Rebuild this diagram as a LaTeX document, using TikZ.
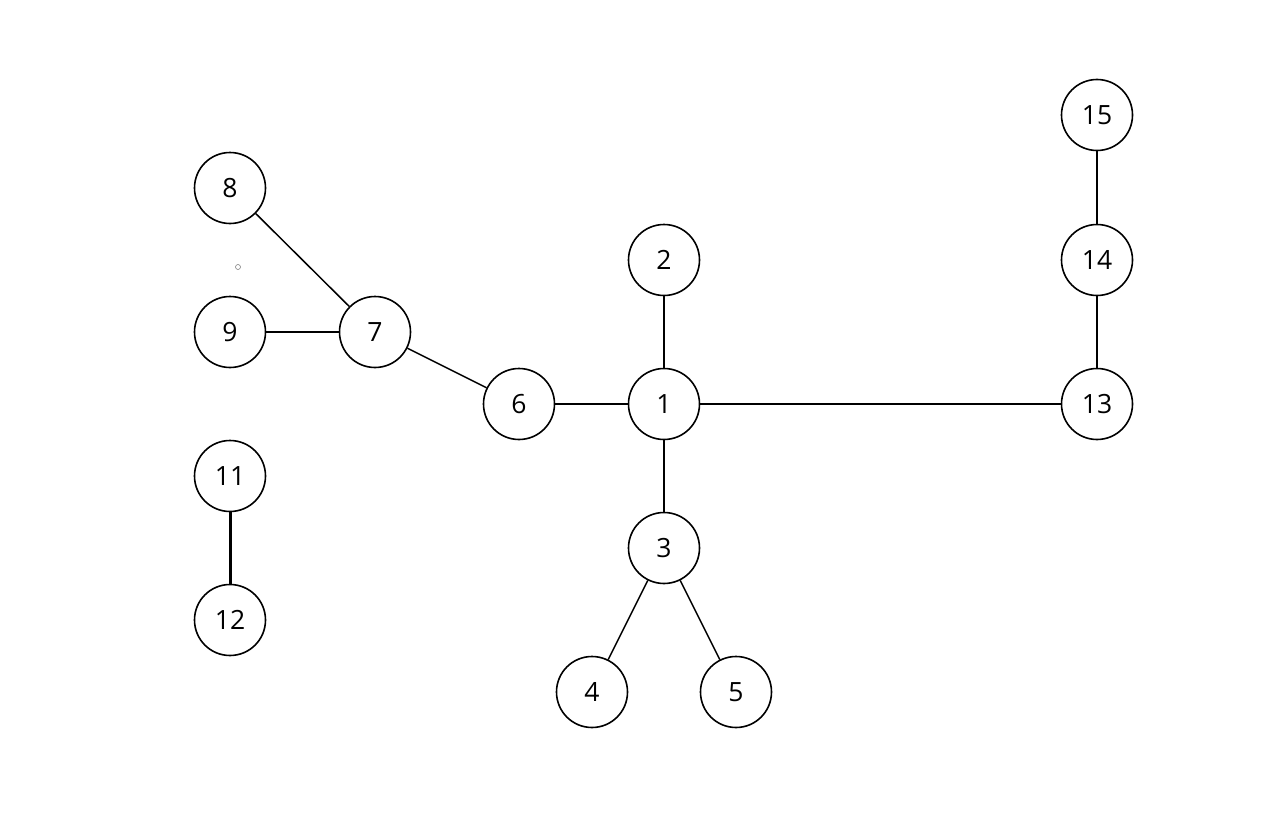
\documentclass[tikz,border=0pt]{standalone}
\usepackage{fontspec}
\setmainfont{Open Sans}
\begin{document}
\begin{tikzpicture}[x=1pt,y=-1pt,
  vtx/.style={circle,draw=black,line width=1.6pt,fill=white,minimum size=71pt,inner sep=0pt,font=\fontsize{26.5}{30}\selectfont},
  edge/.style={line width=1.5pt}]
\useasboundingbox (0,0) rectangle (1280,816);
\node[vtx] (n1) at (664,404) {1};
\node[vtx] (n2) at (664,260) {2};
\node[vtx] (n3) at (664,548) {3};
\node[vtx] (n4) at (592,692) {4};
\node[vtx] (n5) at (736,692) {5};
\node[vtx] (n6) at (519,404) {6};
\node[vtx] (n7) at (375,332) {7};
\node[vtx] (n8) at (230,188) {8};
\node[vtx] (n9) at (230,332) {9};
\node[vtx] (n11) at (230,476) {11};
\node[vtx] (n12) at (230,620) {12};
\node[vtx] (n13) at (1097,404) {13};
\node[vtx] (n14) at (1097,260) {14};
\node[vtx] (n15) at (1097,115) {15};
\draw[edge] (n1) -- (n2);
\draw[edge] (n1) -- (n3);
\draw[edge] (n3) -- (n4);
\draw[edge] (n3) -- (n5);
\draw[edge] (n1) -- (n6);
\draw[edge] (n6) -- (n7);
\draw[edge] (n7) -- (n8);
\draw[edge] (n7) -- (n9);
\draw[edge] (n1) -- (n13);
\draw[edge] (n13) -- (n14);
\draw[edge] (n14) -- (n15);
\draw[line width=3pt] (n11) -- (n12);
\draw[gray,line width=0.6pt] (238,267) circle (2.5);
\end{tikzpicture}
\end{document}
